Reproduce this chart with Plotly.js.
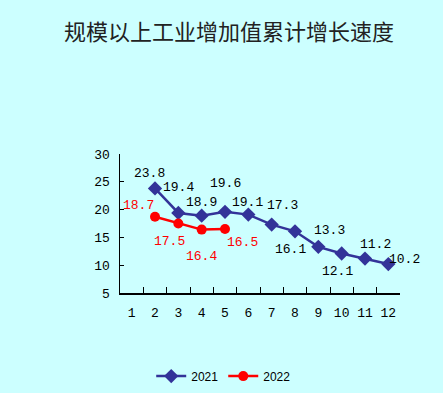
<!DOCTYPE html>
<html>
<head>
<meta charset="utf-8">
<script src="https://cdn.plot.ly/plotly-3.0.1.min.js"></script>
<style>
html,body{margin:0;padding:0;background:#CCFFFF;}
#chart{width:443px;height:393px;}
</style>
</head>
<body>
<div id="chart"></div>
<script>
var months = ["1","2","3","4","5","6","7","8","9","10","11","12"];
var months2021 = ["2","3","4","5","6","7","8","9","10","11","12"];
var values2021 = [23.8, 19.4, 18.9, 19.6, 19.1, 17.3, 16.1, 13.3, 12.1, 11.2, 10.2];
var months2022 = ["2","3","4","5"];
var values2022 = [18.7, 17.5, 16.4, 16.5];
var yTicks = [5, 10, 15, 20, 25, 30];

// label offsets in pixels (x, y up)
var shift2021 = [[-6,15],[0,25],[0,13],[0,28],[-1,12],[11,19],[-5,-18],[11,16],[-4,-18],[10,14],[16,5]];
var shift2022 = [[-17,11],[-9,-18],[0,-27],[17,-13]];

var annotations = [];
function addLabels(xs, ys, shifts, color) {
  for (var i = 0; i < xs.length; i++) {
    annotations.push({
      x: months.indexOf(xs[i]), y: ys[i], xref: 'x', yref: 'y',
      text: ys[i].toFixed(1), showarrow: false,
      xanchor: 'center', yanchor: 'middle',
      xshift: shifts[i][0], yshift: shifts[i][1],
      font: {family: 'Liberation Mono, monospace', size: 13, color: color}
    });
  }
}
addLabels(months2021, values2021, shift2021, '#000000');
addLabels(months2022, values2022, shift2022, '#FF0000');

var traces = [
  {x: months2021, y: values2021, name: '2021', type: 'scatter', mode: 'lines+markers',
   line: {color: '#333399', width: 2.5}, marker: {symbol: 'diamond', size: 11, color: '#333399'}},
  {x: months2022, y: values2022, name: '2022', type: 'scatter', mode: 'lines+markers',
   line: {color: '#FF0000', width: 2.5}, marker: {symbol: 'circle', size: 10, color: '#FF0000'}}
];

var layout = {
  width: 443, height: 393,
  paper_bgcolor: '#CCFFFF', plot_bgcolor: '#CCFFFF',
  margin: {l: 120, r: 43, t: 154, b: 100},
  title: {text: '规模以上工业增加值累计增长速度', x: 0.517, xanchor: 'center', y: 0.918, yanchor: 'middle',
          font: {family: 'Noto Sans CJK SC', size: 22, color: '#222222'}},
  showlegend: true,
  legend: {orientation: 'h', xref: 'container', yref: 'container', x: 0.505, xanchor: 'center', y: 0.043, yanchor: 'middle',
           bgcolor: 'rgba(0,0,0,0)', font: {family: 'Liberation Sans, Arial', size: 12, color: '#000'}},
  xaxis: {type: 'category', categoryorder: 'array', categoryarray: months, tickvals: months,
          range: [-0.5, 11.5], showline: true, linecolor: '#000', linewidth: 1.5,
          ticks: 'inside', ticklen: 6, tickcolor: '#000', tickwidth: 1, tickson: 'boundaries',
          tickangle: 0, automargin: false,
          showgrid: false, zeroline: false, ticklabelstandoff: 7,
          tickfont: {family: 'Liberation Mono, monospace', size: 13, color: '#000'}},
  yaxis: {range: [5, 30], tickvals: yTicks, showline: true, linecolor: '#000', linewidth: 1.5,
          ticks: 'inside', ticklen: 4, tickcolor: '#000', tickwidth: 1, automargin: false,
          showgrid: false, zeroline: false, ticklabelstandoff: 6,
          tickfont: {family: 'Liberation Mono, monospace', size: 13, color: '#000'}},
  annotations: annotations
};

Plotly.newPlot('chart', traces, layout, {displayModeBar: false, staticPlot: true});
</script>
</body>
</html>
